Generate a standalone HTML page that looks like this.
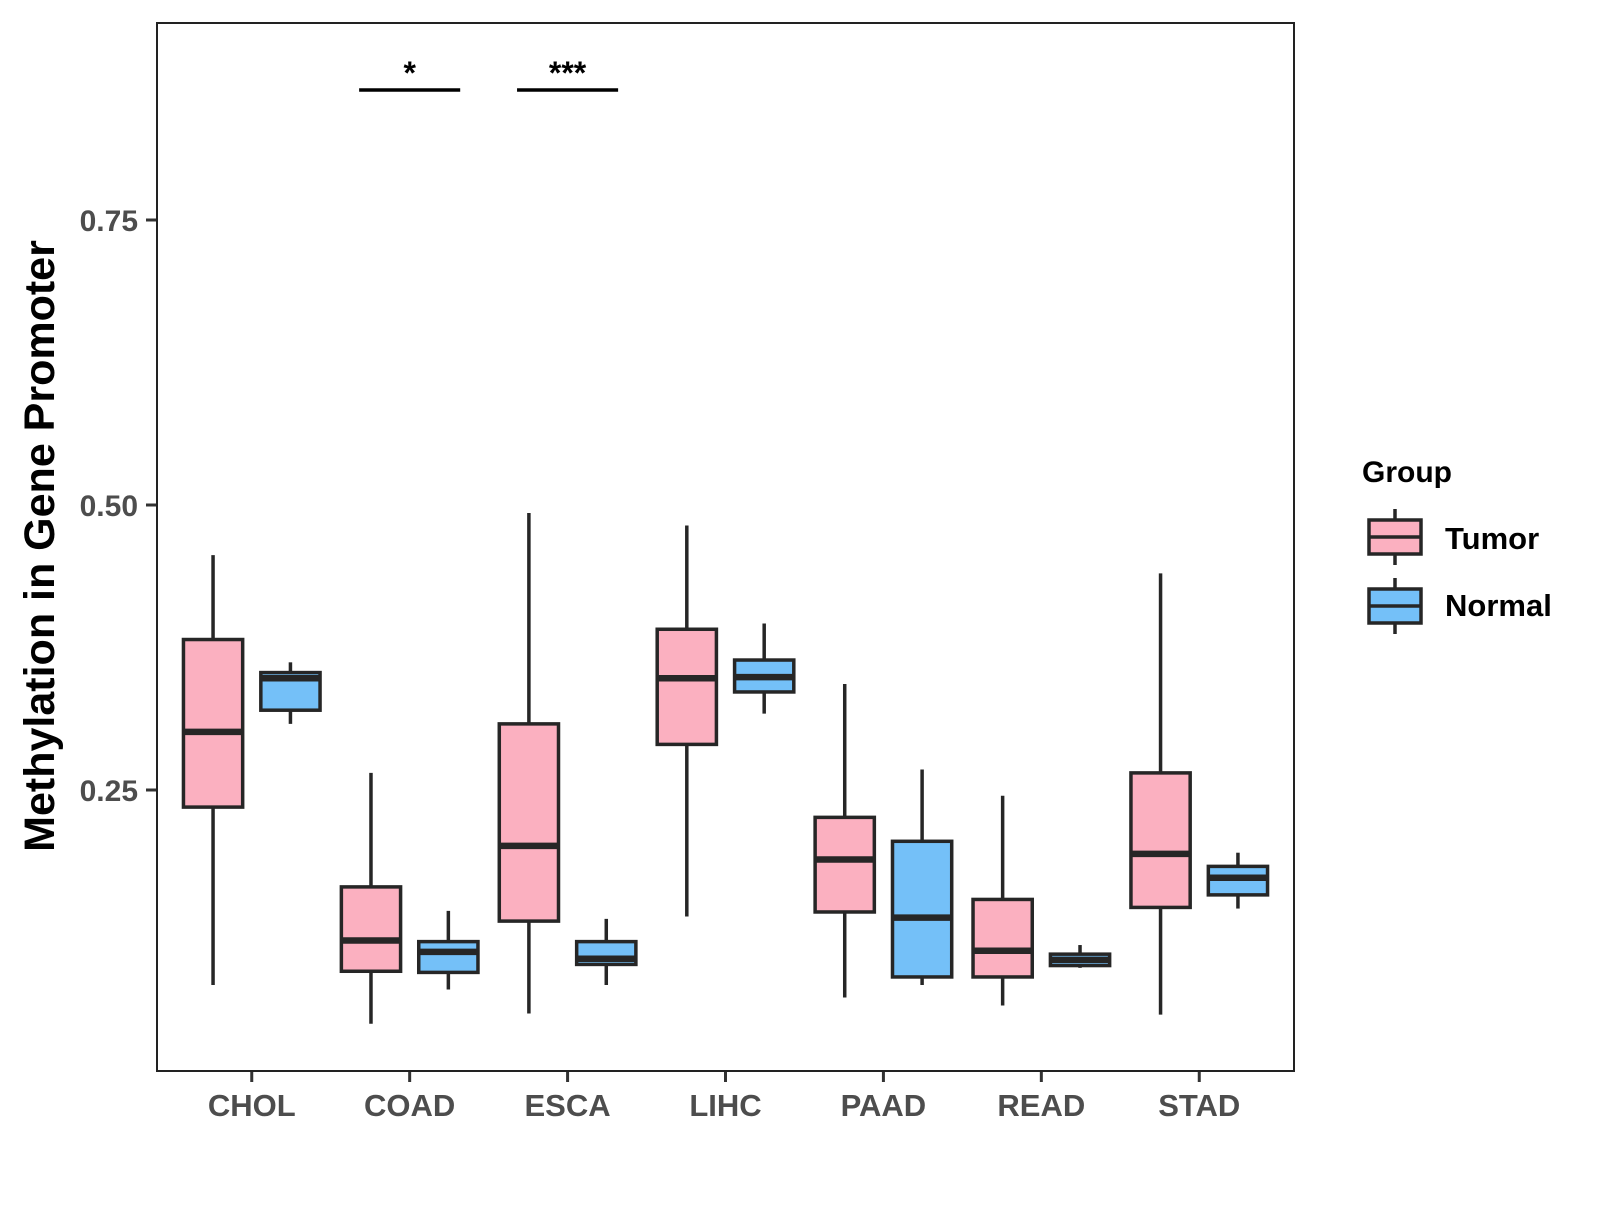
<!DOCTYPE html>
<html><head><meta charset="utf-8"><style>
html,body{margin:0;padding:0;background:#fff;}
svg text{font-family:"Liberation Sans",Arial,sans-serif;font-weight:bold;}
</style></head><body>
<svg id="chart" width="1600" height="1200" viewBox="0 0 1600 1200" xmlns="http://www.w3.org/2000/svg">
<rect x="0" y="0" width="1600" height="1200" fill="#fff"/>
<g id="plot"></g>
<rect x="157" y="23" width="1137" height="1048" fill="none" stroke="#222" stroke-width="2"/>
<text transform="translate(54,546) rotate(-90)" text-anchor="middle" font-size="43" fill="#000">Methylation in Gene Promoter</text>
<g>
<text x="1362" y="482" font-size="30" fill="#000">Group</text>
<g>
<line x1="1395" y1="509" x2="1395" y2="565" stroke="#262626" stroke-width="3.5"/>
<rect x="1369" y="520" width="52" height="34" fill="#FBB0C0" stroke="#262626" stroke-width="3.5"/>
<line x1="1369" y1="537" x2="1421" y2="537" stroke="#262626" stroke-width="3.5"/>
<text x="1445" y="549" font-size="31" fill="#000">Tumor</text>
</g>
<g>
<line x1="1395" y1="578" x2="1395" y2="634" stroke="#262626" stroke-width="3.5"/>
<rect x="1369" y="589" width="52" height="34" fill="#74C0F8" stroke="#262626" stroke-width="3.5"/>
<line x1="1369" y1="606" x2="1421" y2="606" stroke="#262626" stroke-width="3.5"/>
<text x="1445" y="616" font-size="31" fill="#000">Normal</text>
</g>
</g>
</svg>
<script>
const categories = ["CHOL","COAD","ESCA","LIHC","PAAD","READ","STAD"];
const groups = ["Tumor","Normal"];
// [whiskerLow, Q1, median, Q3, whiskerHigh]
const tumorStats = [
  [0.079,0.235,0.301,0.382,0.456],
  [0.045,0.091,0.118,0.165,0.265],
  [0.054,0.135,0.201,0.308,0.493],
  [0.139,0.290,0.348,0.391,0.482],
  [0.068,0.143,0.189,0.226,0.343],
  [0.061,0.086,0.109,0.154,0.245],
  [0.053,0.147,0.194,0.265,0.440]
];
const normalStats = [
  [0.308,0.320,0.348,0.353,0.362],
  [0.075,0.090,0.108,0.117,0.144],
  [0.079,0.097,0.102,0.117,0.137],
  [0.317,0.336,0.349,0.364,0.396],
  [0.079,0.086,0.138,0.205,0.268],
  [0.094,0.096,0.101,0.106,0.114],
  [0.146,0.158,0.173,0.183,0.195]
];
const yTicks = [0.25,0.50,0.75];
const yTickLabels = ["0.25","0.50","0.75"];
const sigCategories = ["COAD","ESCA"];
const sigLabels = ["*","***"];
const sigLevel = 0.864;

const NS="http://www.w3.org/2000/svg";
const plot=document.getElementById('plot');
const X0=157, X1=1294, Y0=1071, Y1=23;
const unit=(X1-X0)/(categories.length-1+1.2);
function xScale(i){return X0+(0.6+i)*unit;}
function yScale(v){return 1075-v*1140;}
function mk(tag,attrs,parent){const e=document.createElementNS(NS,tag);for(const k in attrs)e.setAttribute(k,attrs[k]);(parent||plot).appendChild(e);return e;}

yTicks.forEach((v,i)=>{
  const y=yScale(v);
  const t=mk('line',{x1:146,x2:157,y1:y,y2:y,stroke:'#333','stroke-width':3});
  
  
  const l=mk('text',{x:138,y:y+11,'text-anchor':'end','font-size':30,fill:'#4d4d4d'});
  l.textContent=yTickLabels[i];
  
  
});
categories.forEach((c,i)=>{
  const x=xScale(i);
  const t=mk('line',{x1:x,x2:x,y1:1071,y2:1082,stroke:'#333','stroke-width':3});
  
  
  const l=mk('text',{x:x,y:1116,'text-anchor':'middle','font-size':31,fill:'#4d4d4d'});
  l.textContent=c;
  
  
});
const off=0.245*unit, bw=0.375*unit;
function drawBox(i,s,fill,dir,name){
  const cx=xScale(i)+dir*off;
  const g=mk('g',{});
  
  
  mk('line',{x1:cx,x2:cx,y1:yScale(s[0]),y2:yScale(s[4]),stroke:'#262626','stroke-width':3.5},g);
  mk('rect',{x:cx-bw/2,y:yScale(s[3]),width:bw,height:yScale(s[1])-yScale(s[3]),fill:fill,stroke:'#262626','stroke-width':3.5},g);
  mk('line',{x1:cx-bw/2,x2:cx+bw/2,y1:yScale(s[2]),y2:yScale(s[2]),stroke:'#262626','stroke-width':6.5},g);
}
categories.forEach((c,i)=>{
  drawBox(i,tumorStats[i],'#FBB0C0',-1,'box-tumor-'+c.toLowerCase());
  drawBox(i,normalStats[i],'#74C0F8',1,'box-normal-'+c.toLowerCase());
});
sigCategories.forEach((c,k)=>{
  const i=categories.indexOf(c);
  const x=xScale(i), y=yScale(sigLevel);
  const ln=mk('line',{x1:x-0.32*unit,x2:x+0.32*unit,y1:y,y2:y,stroke:'#000','stroke-width':3.5});
  
  
  const t=mk('text',{x:x,y:y-6,'text-anchor':'middle','font-size':32,fill:'#000'});
  t.textContent=sigLabels[k];
  
  
});
</script>
</body></html>
